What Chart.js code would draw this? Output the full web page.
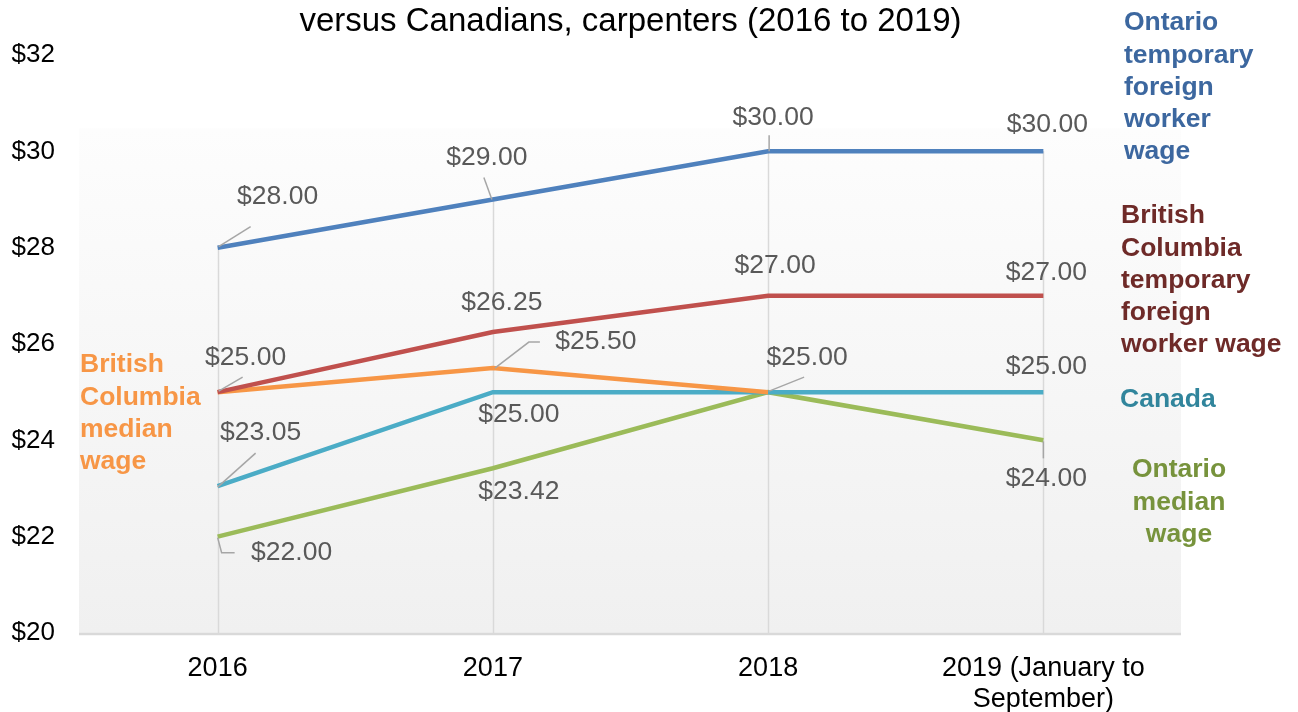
<!DOCTYPE html>
<html>
<head>
<meta charset="utf-8">
<script src="https://cdn.jsdelivr.net/npm/chart.js@4.4.1/dist/chart.umd.min.js"></script>
<style>
html,body{margin:0;padding:0;background:#fff;}
#wrap{width:1298px;height:712px;position:relative;}
</style>
</head>
<body>
<div id="wrap"><canvas id="c" width="1298" height="712"></canvas></div>
<script>
const categories = ['2016', '2017', '2018', ['2019 (January to', 'September)']];
const ontarioTFW = [28.00, 29.00, 30.00, 30.00];
const bcTFW = [25.00, 26.25, 27.00, 27.00];
const bcMedian = [25.00, 25.50, 25.00, null];
const canada = [23.05, 25.00, 25.00, 25.00];
const ontarioMedian = [22.00, 23.42, 25.00, 24.00];
const yTicks = [20, 22, 24, 26, 28, 30, 32];
const titleText = 'versus Canadians, carpenters (2016 to 2019)';

const seriesNames = [
  ['Ontario', 'temporary', 'foreign', 'worker', 'wage'],
  ['British', 'Columbia', 'temporary', 'foreign', 'worker wage'],
  ['British', 'Columbia', 'median', 'wage'],
  ['Canada'],
  ['Ontario', 'median', 'wage']
];

// label placement (pixel offsets from the point) and leader lines — style only
const labelStyle = [
  [{dx:60,dy:-51,lead:[[1,-1],[33,-21]]},{dx:-6,dy:-42,lead:[[-9,-22],[-1,0]]},{dx:5,dy:-34,lead:[[1,-16],[1,0]]},{dx:4,dy:-27}],
  [{dx:28,dy:-34,lead:[[1,-1],[25,-15]]},{dx:9,dy:-29},{dx:7,dy:-30},{dx:3,dy:-23}],
  [null,{dx:103,dy:-26,lead:[[2,0],[36,-26],[47,-26]]},null,null],
  [{dx:43,dy:-53,lead:[[0,1],[38,-33]]},{dx:26,dy:23},null,{dx:3,dy:-25}],
  [{dx:74,dy:16,lead:[[0,1],[4,16],[17,16]]},{dx:26,dy:23},{dx:39,dy:-34,lead:[[1,-1],[36,-15]]},{dx:3,dy:38,lead:[[0,1],[0,18]]}]
];
const nameStyle = [
  {x:1124, y:23, align:'left', color:'#3c679f'},
  {x:1121, y:216, align:'left', color:'#6e2a28'},
  {x:80, y:365, align:'left', color:'#f79646'},
  {x:1120, y:400, align:'left', color:'#31859c'},
  {x:1179, y:470, align:'center', color:'#77933c'}
];

const FONT = '"Liberation Sans", Arial, sans-serif';

const decor = {
  id: 'decor',
  beforeDatasetsDraw(chart) {
    const ctx = chart.ctx, area = chart.chartArea;
    const xs = chart.scales.x, ys = chart.scales.y;
    const top = ys.getPixelForValue(30.48);
    const g = ctx.createLinearGradient(0, top, 0, area.bottom);
    g.addColorStop(0, '#fdfdfd');
    g.addColorStop(1, '#f0f0f0');
    ctx.save();
    ctx.fillStyle = g;
    ctx.fillRect(area.left - 1, top, area.right - area.left + 1, area.bottom - top);
    ctx.strokeStyle = '#d9d9d9';
    ctx.lineWidth = 1.5;
    categories.forEach((c, i) => {
      let mx = -Infinity;
      chart.data.datasets.forEach(ds => { if (ds.data[i] != null) mx = Math.max(mx, ds.data[i]); });
      const x = Math.round(xs.getPixelForValue(i)) + 0.5;
      ctx.beginPath();
      ctx.moveTo(x, ys.getPixelForValue(mx));
      ctx.lineTo(x, area.bottom);
      ctx.stroke();
    });
    ctx.strokeStyle = '#d9d9d9';
    ctx.lineWidth = 2.5;
    ctx.beginPath();
    ctx.moveTo(area.left - 1, area.bottom + 1);
    ctx.lineTo(area.right, area.bottom + 1);
    ctx.stroke();
    ctx.restore();
  },
  afterDatasetsDraw(chart) {
    const ctx = chart.ctx, area = chart.chartArea;
    ctx.save();
    chart.data.datasets.forEach((ds, di) => {
      const meta = chart.getDatasetMeta(di);
      ds.data.forEach((v, i) => {
        const st = labelStyle[di][i];
        if (v == null || !st) return;
        const p = meta.data[i];
        if (st.lead) {
          ctx.strokeStyle = '#a6a6a6';
          ctx.lineWidth = 1.5;
          ctx.beginPath();
          st.lead.forEach((q, k) => {
            const fx = p.x + q[0], fy = p.y + q[1];
            if (k === 0) ctx.moveTo(fx, fy); else ctx.lineTo(fx, fy);
          });
          ctx.stroke();
        }
        ctx.fillStyle = '#595959';
        ctx.font = '26.5px ' + FONT;
        ctx.textAlign = 'center';
        ctx.textBaseline = 'middle';
        ctx.fillText('$' + v.toFixed(2), p.x + st.dx, p.y + st.dy);
      });
    });
    ctx.font = 'bold 26.5px ' + FONT;
    ctx.textBaseline = 'middle';
    seriesNames.forEach((lines, si) => {
      const s = nameStyle[si];
      ctx.fillStyle = s.color;
      ctx.textAlign = s.align;
      lines.forEach((t, k) => ctx.fillText(t, s.x, s.y + k * 32.2));
    });
    ctx.fillStyle = '#000';
    ctx.font = '33px ' + FONT;
    ctx.textAlign = 'center';
    ctx.fillText(titleText, (area.left + area.right) / 2, 22);
    ctx.restore();
  }
};

const colors = ['#4f81bd', '#c0504d', '#f79646', '#4bacc6', '#9bbb59'];
const seriesData = [ontarioTFW, bcTFW, bcMedian, canada, ontarioMedian];

new Chart(document.getElementById('c'), {
  type: 'line',
  data: {
    labels: categories,
    datasets: seriesData.map((d, i) => ({
      label: seriesNames[i].join(' '),
      data: d,
      borderColor: colors[i],
      backgroundColor: colors[i],
      borderWidth: 4.5,
      pointRadius: 0,
      tension: 0,
      spanGaps: false
    }))
  },
  options: {
    responsive: false,
    animation: false,
    devicePixelRatio: 1,
    layout: { padding: { top: 55, right: 117, bottom: 0, left: 0 } },
    plugins: { legend: { display: false }, title: { display: false }, tooltip: { enabled: false } },
    scales: {
      x: {
        offset: true,
        grid: { display: false, drawTicks: false },
        border: { display: false },
        ticks: { color: '#000', font: { family: FONT, size: 27, lineHeight: 1.15 }, padding: 20, maxRotation: 0, autoSkip: false },
        afterFit(s) { s.height = 79; }
      },
      y: {
        min: 20, max: 32,
        afterBuildTicks(s) { s.ticks = yTicks.map(v => ({ value: v })); },
        grid: { display: false, drawTicks: false },
        border: { display: false },
        ticks: { color: '#000', font: { family: FONT, size: 26 }, padding: 25, callback: v => '$' + v },
        afterFit(s) { s.width = 80; }
      }
    }
  },
  plugins: [decor]
});
</script>
</body>
</html>
